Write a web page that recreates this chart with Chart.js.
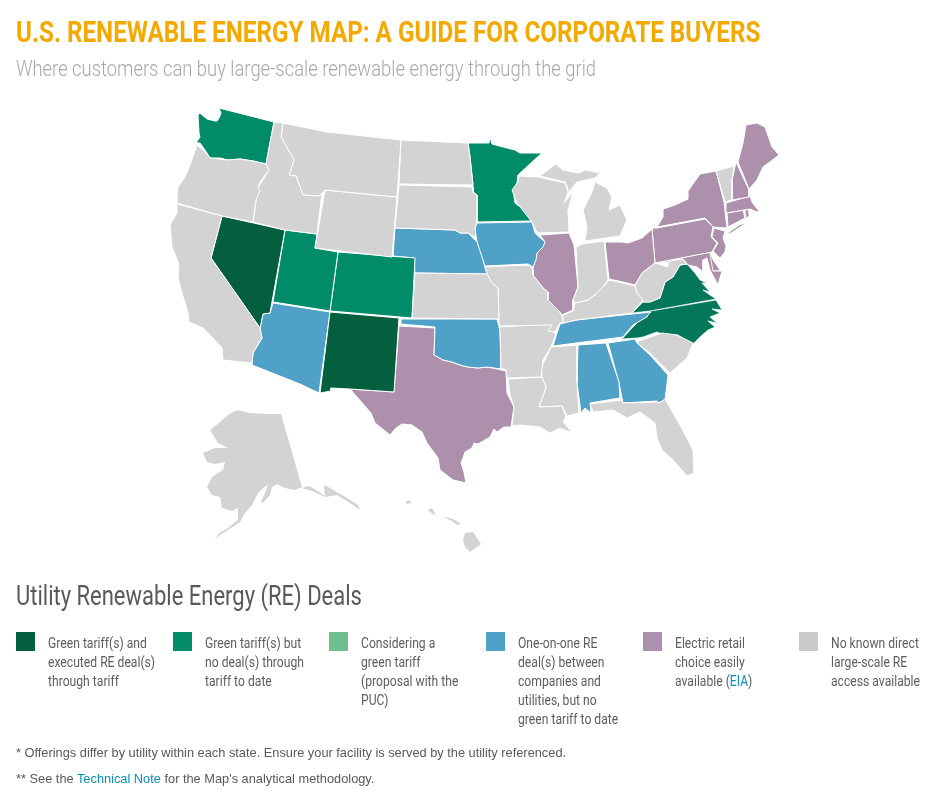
<!DOCTYPE html>
<html><head><meta charset="utf-8">
<script src="https://cdn.jsdelivr.net/npm/chart.js@4"></script>
<style>
html,body{margin:0;padding:0;background:#fff;overflow:hidden}
#wrap{position:relative;width:942px;height:797px;overflow:hidden}
canvas{position:absolute;left:0;top:0}
.t{position:absolute;white-space:nowrap;transform-origin:0 0;font-family:Roboto,sans-serif}
.sw{position:absolute;width:19px;height:19px}
a{color:#0b8fb3;text-decoration:none}
</style></head><body><div id="wrap"><canvas id="c" width="942" height="797"></canvas></div>
<script>
const titleText="U.S. RENEWABLE ENERGY MAP: A GUIDE FOR CORPORATE BUYERS";
const subtitleText="Where customers can buy large-scale renewable energy through the grid";
const headingText="Utility Renewable Energy (RE) Deals";
const categoryColors=["#045f3f","#008c69","#6dbf8e","#50a1c8","#ad90ab","#d3d3d3"];
const swatchColors=["#045f3f","#008c69","#6dbf8e","#50a1c8","#ad90ab","#c9c9c9"];
const accentGreen="#04775a";
const legendLines=[
["Green tariff(s) and","executed RE deal(s)","through tariff"],
["Green tariff(s) but","no deal(s) through","tariff to date"],
["Considering a","green tariff","(proposal with the","PUC)"],
["One-on-one RE","deal(s) between","companies and","utilities, but no","green tariff to date"],
["Electric retail","choice easily",'available (<a>EIA</a>)'],
["No known direct","large-scale RE","access available"]];
const WA=[[219,108],[274,122],[266,164],[253,161],[240,159],[228,160],[220,158],[210,158],[205,150],[200,143],[196,143],[200,137],[199,133],[198,115],[200,113],[207,119],[215,121],[217,121],[219,118],[221,113]];
const WAH=[[210,132],[216,125],[217,129],[212,134]];
const OR=[[197,145],[205,152],[210,158],[228,160],[240,159],[253,161],[266,164],[269,170],[260,182],[258,188],[260,190],[256,200],[253,222],[222,216],[177,203],[177,198],[178,187],[185,177],[190,165]];
const CA=[[177,204],[222,216],[211,258],[260,328],[262,338],[253,353],[252,363],[223,360],[222,348],[212,337],[203,328],[189,322],[188,313],[182,293],[178,278],[179,268],[178,262],[172,247],[170,225],[177,213]];
const NV=[[222,216],[285,230],[270,313],[263,314],[260,328],[211,258]];
const ID=[[274,122],[283,123],[281,137],[294,160],[289,175],[296,176],[303,195],[319,196],[322,193],[317,234],[285,230],[253,222],[258,188],[269,170],[266,164]];
const MT=[[283,123],[327,132],[401,140],[397,197],[325,190],[322,193],[319,196],[303,195],[296,176],[289,175],[294,160],[281,137]];
const WY=[[325,190],[397,197],[392,257],[315,248]];
const UT=[[285,230],[317,234],[315,248],[338,252],[330,311],[273,302]];
const CO=[[338,252],[415,258],[412,318],[330,311]];
const AZ=[[273,303],[330,312],[319,393],[300,384],[252,365],[253,353],[262,338],[260,328],[263,314],[270,313]];
const NM=[[330,312],[399,318],[394,392],[350,389],[331,388],[331,391],[320,393]];
const TX=[[399,326],[435,328],[434,355],[443,360],[452,362],[460,365],[468,367],[478,368],[487,367],[497,369],[506,371],[507,393],[514,407],[511,427],[504,427],[497,432],[494,429],[490,437],[478,444],[474,443],[472,448],[465,452],[463,458],[461,463],[464,472],[466,483],[453,480],[440,470],[438,458],[427,443],[422,432],[412,425],[402,424],[396,428],[390,435],[375,423],[371,413],[350,389],[394,392]];
const OK=[[401,319],[497,319],[500,330],[501,369],[487,367],[478,368],[468,367],[460,365],[452,362],[443,360],[434,355],[435,327],[401,324]];
const KS=[[415,273],[487,274],[492,283],[498,288],[499,319],[412,318]];
const NE=[[395,228],[455,230],[460,233],[468,233],[477,242],[482,257],[487,274],[415,273],[414,258],[393,256]];
const SD=[[399,185],[473,187],[473,192],[477,195],[477,223],[475,227],[476,238],[468,233],[460,233],[455,230],[395,228]];
const ND=[[401,140],[468,143],[470,157],[473,185],[399,184]];
const MN=[[468,143],[489,143],[490,137],[492,144],[503,147],[515,150],[520,153],[530,153],[542,153],[532,162],[518,175],[517,183],[513,190],[515,203],[527,212],[532,221],[477,222],[477,195],[473,192],[473,185],[470,157]];
const IA=[[477,223],[532,222],[535,233],[545,242],[543,247],[537,253],[536,260],[533,267],[528,264],[485,266],[480,253],[476,237],[475,228]];
const MO=[[485,267],[529,265],[533,270],[533,275],[543,288],[548,292],[548,300],[558,310],[562,315],[563,322],[560,323],[555,332],[548,331],[552,325],[499,326],[498,288],[492,283],[487,274]];
const IL=[[540,235],[569,233],[574,245],[578,287],[573,300],[573,310],[562,315],[558,310],[548,300],[548,292],[543,288],[533,275],[533,268],[537,253],[545,242]];
const WI=[[519,176],[538,177],[565,183],[568,192],[564,203],[573,192],[568,210],[569,232],[537,233],[532,222],[517,203],[512,190],[518,182]];
const MIU=[[540,176],[553,166],[562,161],[557,165],[563,170],[578,173],[585,170],[600,173],[595,178],[577,182],[569,192],[565,182]];
const MIL=[[595,182],[607,188],[612,197],[609,210],[620,205],[627,220],[620,236],[585,241],[587,227],[583,210],[592,192]];
const IN=[[576,247],[582,244],[604,241],[608,280],[603,287],[597,293],[588,300],[575,303],[573,300],[578,287]];
const OH=[[605,242],[622,242],[628,243],[642,238],[652,229],[655,263],[642,273],[635,285],[623,282],[609,279]];
const KY=[[563,315],[573,311],[575,303],[588,300],[597,293],[603,287],[609,280],[623,283],[635,286],[637,293],[643,300],[632,313],[577,320],[563,323]];
const WV=[[655,263],[668,267],[668,262],[675,260],[683,259],[687,264],[680,265],[673,277],[665,282],[660,298],[650,302],[643,302],[637,293],[635,286],[642,273]];
const VA=[[632,313],[643,302],[650,302],[660,298],[665,282],[673,277],[680,265],[687,264],[695,273],[700,280],[707,283],[702,283],[710,292],[703,290],[710,295],[716,299],[650,311]];
const NC=[[650,311],[716,300],[722,310],[712,309],[720,313],[710,317],[717,323],[708,321],[715,327],[708,330],[700,337],[692,345],[678,335],[665,335],[657,332],[643,337],[637,338],[622,339],[632,328],[640,320],[647,317]];
const TN=[[576,320],[651,312],[645,318],[633,325],[623,337],[553,346],[557,333],[560,324]];
const AR=[[499,327],[552,324],[553,332],[556,334],[551,347],[543,360],[541,377],[507,378],[506,370],[501,368],[500,330]];
const LA=[[508,379],[542,377],[546,387],[539,407],[562,406],[566,417],[563,421],[572,433],[560,428],[550,433],[540,427],[520,425],[512,426],[514,407],[510,395]];
const MS=[[551,347],[577,345],[577,383],[579,413],[567,416],[562,406],[539,407],[546,387],[542,377],[541,368]];
const AL=[[578,345],[606,343],[619,382],[620,398],[590,403],[591,413],[585,408],[581,413],[577,383]];
const GA=[[608,343],[635,339],[637,343],[650,355],[668,375],[665,400],[658,403],[657,401],[623,403],[619,383]];
const SC=[[636,342],[662,333],[677,335],[693,343],[687,358],[670,373],[650,353]];
const FL=[[590,404],[622,400],[623,403],[657,402],[659,403],[665,399],[680,425],[693,450],[694,473],[687,476],[673,460],[662,450],[657,438],[655,423],[640,412],[627,418],[613,410],[593,412]];
const PA=[[652,228],[657,228],[705,219],[713,227],[711,237],[717,243],[712,252],[655,263]];
const NY=[[657,227],[663,217],[663,209],[675,205],[688,199],[688,191],[700,174],[716,171],[724,202],[727,228],[713,227],[705,218]];
const LI=[[727,234],[740,225],[744,224],[732,232]];
const VT=[[716,171],[734,166],[732,180],[732,200],[725,202]];
const NH=[[736,162],[749,190],[749,197],[732,200],[732,180]];
const ME=[[738,162],[743,143],[746,125],[757,123],[765,127],[772,147],[779,155],[763,167],[757,180],[749,189]];
const MA=[[726,203],[750,196],[752,202],[758,210],[763,208],[757,212],[750,209],[726,213]];
const CT=[[727,213],[743,210],[745,218],[728,227]];
const RI=[[745,209],[748,208],[749,216],[746,218]];
const NJ=[[714,228],[725,231],[723,238],[726,246],[725,252],[720,258],[713,251],[718,243],[712,237]];
const DE=[[710,252],[713,260],[720,270],[713,271]];
const MD=[[655,263],[710,252],[713,271],[722,271],[718,285],[710,270],[707,258],[703,260],[703,272],[697,267],[688,265],[683,259],[675,260],[668,267],[668,262]];
const AK=[[237,410],[250,413],[267,414],[281,414],[302,487],[295,490],[285,488],[277,484],[272,487],[270,495],[263,503],[261,502],[265,493],[268,485],[263,488],[258,493],[252,505],[245,513],[240,522],[228,530],[220,535],[215,539],[219,533],[228,528],[238,520],[238,508],[232,511],[222,508],[220,497],[212,495],[207,487],[212,477],[223,470],[225,462],[215,464],[207,462],[203,453],[215,448],[228,448],[218,443],[210,430],[220,422],[228,415]];
const AKP=[[302,488],[308,486],[313,488],[325,496],[324,485],[330,488],[347,498],[358,505],[360,510],[350,503],[337,495],[325,497],[312,491]];
const HI1=[[405,502],[410,500],[411,503],[407,504]];
const HI2=[[428,510],[432,508],[436,515],[431,513]];
const HI3=[[443,517],[450,518],[455,520],[461,524],[457,525],[452,521]];
const HI4=[[465,533],[473,532],[481,544],[470,552],[465,547],[463,540]];
const states=[
[CA,5],[OR,5],[ID,5],[MT,5],[WY,5],[ND,5],[SD,5],[KS,5],[MO,5],[AR,5],[LA,5],[MS,5],[WI,5],[MIU,5],[MIL,5],[IN,5],[KY,5],[WV,5],[SC,5],[FL,5],[VT,5],[AK,5,0],[AKP,5,0],[HI1,5,0],[HI2,5,0],[HI3,5,0],[HI4,5,0],
[NV,0],[NM,0],[WA,1],[UT,1],[CO,1],[MN,1],
[AZ,3],[OK,3],[NE,3],[IA,3],[TN,3],[AL,3],[GA,3],
[TX,4],[IL,4],[OH,4],[PA,4],[NY,4],[LI,4,0],[NH,4],[ME,4],[MA,4],[CT,4],[RI,4,0.6],[NJ,4],[DE,4,0.6],[MD,4],
[VA,-1,0.7],[NC,-1,0.7],[WAH,-2,0]];
new Chart(document.getElementById("c"),{
 type:"scatter",
 data:{datasets:states.map(([pts,cat,w])=>{
  const col=cat===-1?accentGreen:cat===-2?"#ffffff":categoryColors[cat];
  return {data:pts.concat([pts[0]]).map(p=>({x:p[0],y:p[1]})),showLine:true,fill:"shape",tension:0,
   backgroundColor:col,borderColor:"#ffffff",borderWidth:w===undefined?1:w,borderJoinStyle:"round",pointRadius:0,pointHoverRadius:0};
 })},
 options:{responsive:false,animation:false,events:[],
  layout:{padding:0},
  plugins:{legend:{display:false},tooltip:{enabled:false}},
  scales:{x:{type:"linear",min:0,max:942,display:false},y:{type:"linear",min:0,max:797,reverse:true,display:false}}}
});
const wrap=document.getElementById("wrap");
function text(html,x,y,css,sx){const d=document.createElement("div");d.className="t";d.innerHTML=html;
 d.style.cssText=`left:${x}px;top:${y}px;${css};transform:scaleX(${sx||1})`;wrap.appendChild(d);return d;}
text(titleText,16,15,"font-size:29px;font-weight:700;color:#f2a900;line-height:34px",0.8355);
text(subtitleText,16,55,"font-size:22px;font-weight:300;color:#a7a9ac;line-height:28px",0.836);
text(headingText,16,580,"font-size:27px;font-weight:400;color:#58595b;line-height:32px",0.814);
const swatchX=[16,173,329,486,643,799];
swatchX.forEach((x,i)=>{const s=document.createElement("div");s.className="sw";s.style.cssText=`left:${x}px;top:632px;background:${swatchColors[i]}`;wrap.appendChild(s);
 legendLines[i].forEach((l,j)=>text(l,x+32,634+j*19,"font-size:15px;color:#5d5d5f;line-height:19px",0.81));});
const fn="font-family:'Liberation Sans',Arial,sans-serif;font-size:12.8px;color:#58595b;line-height:16px";
text("* Offerings differ by utility within each state. Ensure your facility is served by the utility referenced.",16,745,fn);
text("** See the <a>Technical Note</a> for the Map's analytical methodology.",16,771,fn);
</script></body></html>
